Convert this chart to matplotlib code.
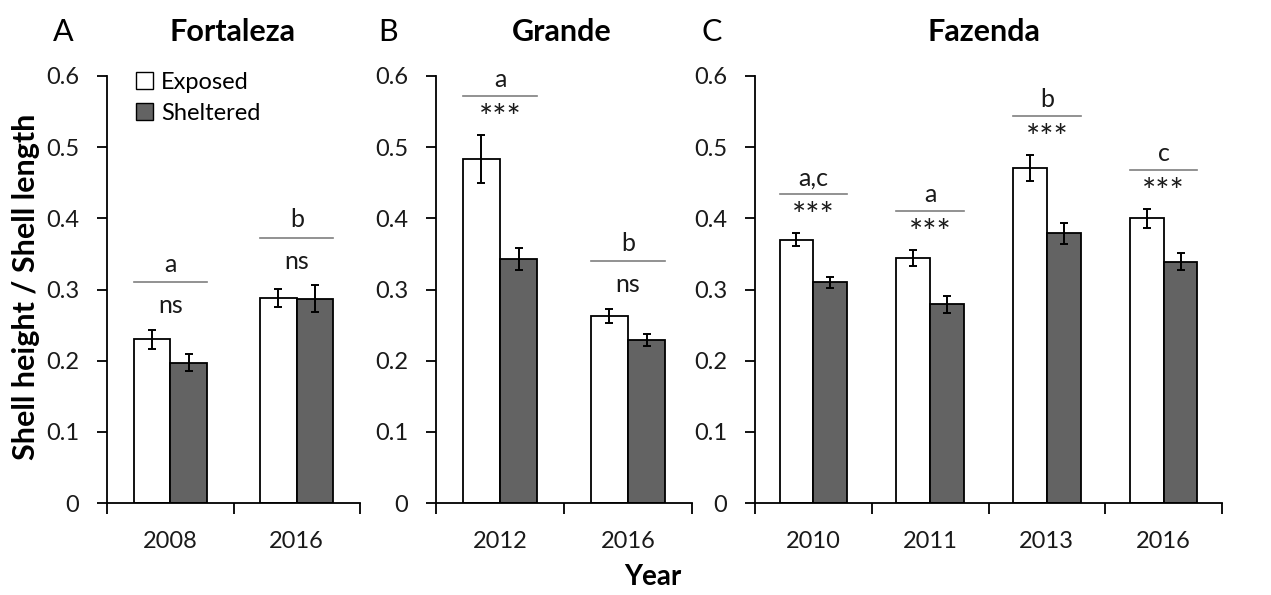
import matplotlib
matplotlib.use("Agg")
import matplotlib.pyplot as plt
import numpy as np
from matplotlib.patches import Patch

plt.rcParams['font.family'] = ['Lato', 'DejaVu Sans']

# data
site_names = ['Fortaleza', 'Grande', 'Fazenda']
panel_tags = ['A', 'B', 'C']

years_fort = ['2008', '2016']
exp_fort = [0.230, 0.288]
exp_err_fort = [0.013, 0.013]
shel_fort = [0.197, 0.287]
shel_err_fort = [0.012, 0.019]
group_fort = ['a', 'b']
sig_fort = ['ns', 'ns']

years_gran = ['2012', '2016']
exp_gran = [0.483, 0.263]
exp_err_gran = [0.034, 0.010]
shel_gran = [0.343, 0.229]
shel_err_gran = [0.015, 0.008]
group_gran = ['a', 'b']
sig_gran = ['***', 'ns']

years_faz = ['2010', '2011', '2013', '2016']
exp_faz = [0.370, 0.344, 0.471, 0.400]
exp_err_faz = [0.009, 0.011, 0.018, 0.013]
shel_faz = [0.310, 0.279, 0.379, 0.339]
shel_err_faz = [0.008, 0.012, 0.015, 0.012]
group_faz = ['a,c', 'a', 'b', 'c']
sig_faz = ['***', '***', '***', '***']

panels = [
    (years_fort, exp_fort, exp_err_fort, shel_fort, shel_err_fort, group_fort, sig_fort),
    (years_gran, exp_gran, exp_err_gran, shel_gran, shel_err_gran, group_gran, sig_gran),
    (years_faz, exp_faz, exp_err_faz, shel_faz, shel_err_faz, group_faz, sig_faz),
]

# axes rectangles in pixels (left, right) ; bottom/top shared
W, H = 1271, 595
ax_x = [(107, 360), (436, 692), (755, 1222)]
y0_px, y6_px = 503, 76

DARK = '#636363'
LINE_GREY = '#7f7f7f'
TXT = '#1a1a1a'
bw = 0.29

# offsets above the highest error bar: (sig text, bracket line, group letter)
offs = {'***': (0.023, 0.055, 0.078), 'ns': (0.034, 0.067, 0.092)}
sig_size = {'***': 24, 'ns': 18}

fig = plt.figure(figsize=(W / 100, H / 100), dpi=100)

for k, (years, ex, exe, sh, she, grp, sig) in enumerate(panels):
    l, r = ax_x[k]
    ax = fig.add_axes([l / W, 1 - y0_px / H, (r - l) / W, (y0_px - y6_px) / H])
    x = np.arange(len(years))
    ek = dict(ecolor='black', elinewidth=1.4, capsize=3, capthick=1.4)
    ax.bar(x - bw / 2, ex, bw, yerr=exe, color='white', edgecolor='black',
           linewidth=1.3, error_kw=ek, label='Exposed')
    ax.bar(x + bw / 2, sh, bw, yerr=she, color=DARK, edgecolor='black',
           linewidth=1.3, error_kw=ek, label='Sheltered')

    for i in range(len(years)):
        top = max(ex[i] + exe[i], sh[i] + she[i])
        o_sig, o_line, o_let = offs[sig[i]]
        ax.plot([x[i] - bw, x[i] + bw], [top + o_line] * 2, color=LINE_GREY,
                lw=1.2, clip_on=False)
        ax.text(x[i], top + o_sig, sig[i], ha='center', va='center',
                fontsize=sig_size[sig[i]], color=TXT)
        ax.text(x[i], top + o_let, grp[i], ha='center', va='center',
                fontsize=18, color=TXT)

    ax.set_xlim(-0.5, len(years) - 0.5)
    ax.set_ylim(0, 0.6)
    ax.set_yticks(np.arange(0, 0.61, 0.1))
    ax.set_yticklabels(['0'] + ['%.1f' % v for v in np.arange(0.1, 0.61, 0.1)])
    ax.set_xticks(np.arange(-0.5, len(years), 1.0))
    ax.set_xticklabels([])
    ax.set_xticks(x, minor=True)
    ax.set_xticklabels(years, minor=True)
    ax.tick_params(axis='y', direction='out', length=7, width=1.3,
                   pad=13, labelsize=17, labelcolor=TXT)
    ax.tick_params(axis='x', which='major', direction='out', length=8, width=1.3)
    ax.tick_params(axis='x', which='minor', length=0, pad=20,
                   labelsize=17, labelcolor=TXT)
    for s in ['top', 'right']:
        ax.spines[s].set_visible(False)
    for s in ['left', 'bottom']:
        ax.spines[s].set_linewidth(1.3)

    if k == 0:
        handles = [Patch(facecolor='white', edgecolor='black', lw=1.0, label='Exposed'),
                   Patch(facecolor=DARK, edgecolor='black', lw=1.0, label='Sheltered')]
        ax.legend(handles=handles, loc='upper left', bbox_to_anchor=(0.115, 1.01),
                  frameon=False, fontsize=17, handlelength=0.7, handleheight=0.7,
                  handletextpad=0.35, labelspacing=0.42, borderaxespad=0,
                  borderpad=0)

fig.text(63 / W, 1 - 32 / H, panel_tags[0], ha='center', va='center', fontsize=22)
fig.text(388 / W, 1 - 32 / H, panel_tags[1], ha='center', va='center', fontsize=22)
fig.text(712 / W, 1 - 32 / H, panel_tags[2], ha='center', va='center', fontsize=22)
fig.text(233 / W, 1 - 32 / H, site_names[0], ha='center', va='center',
         fontsize=22, fontweight='bold')
fig.text(562 / W, 1 - 32 / H, site_names[1], ha='center', va='center',
         fontsize=22, fontweight='bold')
fig.text(984 / W, 1 - 32 / H, site_names[2], ha='center', va='center',
         fontsize=22, fontweight='bold')

fig.text(26 / W, 1 - 287 / H, 'Shell height / Shell length', rotation=90,
         ha='center', va='center', fontsize=22, fontweight='bold')
fig.text(653 / W, 1 - 577 / H, 'Year', ha='center', va='center',
         fontsize=20, fontweight='bold')

fig.savefig('out.png', dpi=100, facecolor='white')
